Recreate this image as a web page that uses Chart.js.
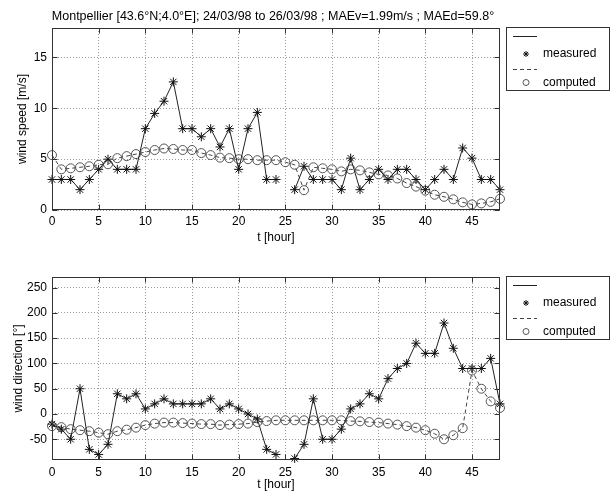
<!DOCTYPE html>
<html><head><meta charset="utf-8">
<script src="https://cdn.jsdelivr.net/npm/chart.js@4.4.0/dist/chart.umd.min.js"></script>
<style>
html,body{margin:0;padding:0;background:#fff;width:611px;height:493px;overflow:hidden}
canvas{position:absolute;left:0}
#c1{top:0}
#c2{top:246px}
</style></head><body>
<canvas id="c1" width="611" height="246"></canvas>
<canvas id="c2" width="611" height="247"></canvas>
<script>
const hours = [0,1,2,3,4,5,6,7,8,9,10,11,12,13,14,15,16,17,18,19,20,21,22,23,24,25,26,27,28,29,30,31,32,33,34,35,36,37,38,39,40,41,42,43,44,45,46,47,48];
const speedMeasured = [3,3,3,2,3,4,5,4,4,4,8,9.5,10.7,12.6,8,8,7.2,8,6.2,8,4,8,9.6,3,3,null,2,4.3,3,3,3,2,5.1,2,3,4,3,4,4,3,2,3,4,3,6.1,5.1,3,3,2];
const speedComputed = [5.4,4.0,4.1,4.2,4.3,4.45,4.5,5.1,5.3,5.5,5.7,5.9,6.05,6.0,5.9,5.9,5.6,5.4,5.15,5.1,5.0,5.0,4.9,4.9,4.9,4.7,4.45,1.95,4.2,4.1,4.0,3.8,4.0,3.9,3.7,3.5,3.4,3.1,2.65,2.3,1.9,1.5,1.3,1.05,0.75,0.55,0.65,0.8,1.1];
const dirMeasured = [-20,-30,-50,50,-70,-80,-60,40,30,40,10,20,30,20,20,20,20,30,10,20,10,0,-10,-70,-80,null,-88,-60,30,-50,-50,-30,10,20,40,30,70,90,100,140,120,120,180,130,90,90,90,110,20];
const dirComputed = [-24,-26,-30,-32,-34,-37,-40,-34,-31,-27,-22,-19,-17,-17,-18,-19,-20,-20,-22,-21,-20,-19,-16,-14,-12.5,-12.5,-12.5,-12.5,-12.5,-12.5,-12.5,-12.5,-14,-14.5,-16,-17,-19,-21,-24,-27,-32,-39,-50,-42,-28,86,50,25,12];
const xTicks = [0,5,10,15,20,25,30,35,40,45];
const speedTicks = [0,5,10,15];
const dirTicks = [-50,0,50,100,150,200,250];
const legendLabels = ['measured','computed'];
const titleText = 'Montpellier [43.6\u00B0N;4.0\u00B0E]; 24/03/98 to 26/03/98 ; MAEv=1.99m/s ; MAEd=59.8\u00B0';

const FONT = "'Liberation Sans', Arial, Helvetica, sans-serif";
const INK = '#333';

function pts(vals){ return hours.map((h,i)=>({x:h, y:vals[i]})); }

const matlabPlugin = {
  id:'matlab',
  afterDraw(chart, args, opts){
    const {ctx, chartArea:a, scales} = chart;
    ctx.save();
    ctx.strokeStyle = INK; ctx.lineWidth = 1; ctx.setLineDash([]);
    const L=Math.round(a.left)+0.5, R=Math.round(a.right)-0.5, T=Math.round(a.top)+0.5, B=Math.round(a.bottom)-0.5;
    ctx.strokeRect(L,T,R-L,B-T);
    ctx.beginPath();
    scales.x.ticks.forEach(t=>{const p=Math.round(scales.x.getPixelForValue(t.value))+0.5; ctx.moveTo(p,B); ctx.lineTo(p,B-5); ctx.moveTo(p,T); ctx.lineTo(p,T+5);});
    scales.y.ticks.forEach(t=>{const p=Math.round(scales.y.getPixelForValue(t.value))+0.5; ctx.moveTo(L,p); ctx.lineTo(L+5,p); ctx.moveTo(R,p); ctx.lineTo(R-5,p);});
    ctx.stroke();
    // legend
    const lx=506.5, ly=Math.round(a.top)-0.5, lw=103, lh=63;
    ctx.fillStyle='#fff'; ctx.fillRect(lx,ly,lw,lh);
    ctx.strokeStyle=INK; ctx.strokeRect(lx,ly,lw,lh);
    const mx=526, x0=513, x1=537;
    ctx.strokeStyle='#222'; ctx.beginPath(); ctx.moveTo(x0,ly+9); ctx.lineTo(x1,ly+9); ctx.stroke();
    ctx.setLineDash([4,3]); ctx.strokeStyle='#444'; ctx.beginPath(); ctx.moveTo(x0,ly+42); ctx.lineTo(x1,ly+42); ctx.stroke();
    ctx.setLineDash([]);
    ctx.strokeStyle='#111';
    Chart.helpers.drawPoint(ctx,{pointStyle:'star',radius:3,rotation:0,borderWidth:1},mx,ly+26.5);
    ctx.strokeStyle='#555';
    Chart.helpers.drawPoint(ctx,{pointStyle:'circle',radius:3,rotation:0,borderWidth:1},mx,ly+55);
    ctx.fillStyle='#000'; ctx.font='12px '+FONT; ctx.textAlign='left'; ctx.textBaseline='middle';
    ctx.fillText(legendLabels[0],543,ly+26.5);
    ctx.fillText(legendLabels[1],543,ly+55);
    if (opts.title){
      ctx.font='12.5px '+FONT;
      ctx.textAlign='center'; ctx.textBaseline='alphabetic';
      ctx.fillText(opts.title,(a.left+a.right)/2 - 3,19.5);
    }
    ctx.restore();
  }
};

function makeChart(id, measured, computed, yMin, yMax, yTicks, yLabel, cfg){
  return new Chart(document.getElementById(id), {
    type:'line',
    data:{datasets:[
      {data:pts(measured), borderColor:'#222', backgroundColor:'#111', borderWidth:1, pointStyle:'star', pointRadius:4.5, pointBorderWidth:1, pointBorderColor:'#111', spanGaps:false, clip:false, tension:0},
      {data:pts(computed), borderColor:'#444', backgroundColor:'rgba(0,0,0,0)', borderWidth:1, borderDash:[4,3], pointStyle:'circle', pointRadius:4.5, pointBorderWidth:1, pointBorderColor:'#555', pointBackgroundColor:'rgba(0,0,0,0)', clip:false, tension:0}
    ]},
    options:{
      responsive:false, animation:false, events:[],
      layout:{padding:{left:0, right:611-500, top:cfg.top, bottom:0}},
      plugins:{legend:{display:false}, tooltip:{enabled:false}, matlab:{title:cfg.title}},
      scales:{
        x:{type:'linear', min:0, max:48,
          afterBuildTicks:s=>{s.ticks = xTicks.map(v=>({value:v}));},
          afterFit:s=>{s.height = cfg.xh;},
          grid:{color:'#999', lineWidth:1, drawTicks:false},
          border:{display:false, dash:[1,2]},
          ticks:{padding:cfg.xpad, color:'#000', font:{family:FONT,size:12}, maxRotation:0, autoSkip:false},
          title:{display:true, text:'t [hour]', color:'#000', font:{family:FONT,size:12}, padding:{top:0,bottom:cfg.xtp}}
        },
        y:{type:'linear', min:yMin, max:yMax,
          afterBuildTicks:s=>{s.ticks = yTicks.map(v=>({value:v}));},
          afterFit:s=>{s.width = 52;},
          grid:{color:'#999', lineWidth:1, drawTicks:false},
          border:{display:false, dash:[1,2]},
          ticks:{padding:5, color:'#000', font:{family:FONT,size:12}, autoSkip:false},
          title:{display:true, text:yLabel, color:'#000', font:{family:FONT,size:12}, padding:{top:cfg.ytp,bottom:0}}
        }
      }
    },
    plugins:[matlabPlugin]
  });
}

makeChart('c1', speedMeasured, speedComputed, 0, 17.9, speedTicks, 'wind speed [m/s]', {top:28, xh:36, xpad:4, xtp:1, ytp:15, title:titleText});
makeChart('c2', dirMeasured, dirComputed, -91, 271, dirTicks, 'wind direction [\u00B0]', {top:31, xh:33, xpad:5, xtp:1, ytp:11, title:null});
</script>
</body></html>
